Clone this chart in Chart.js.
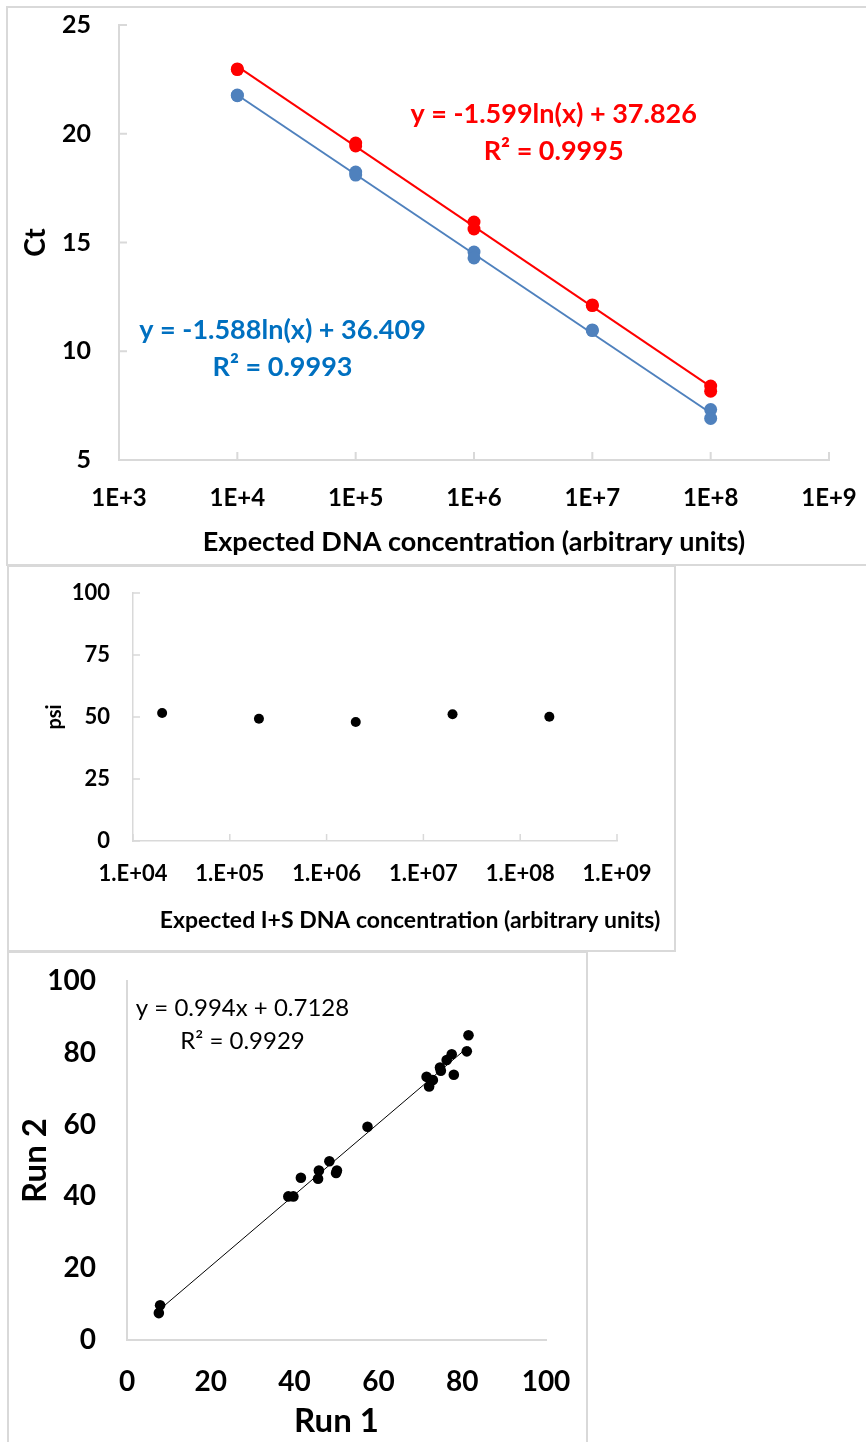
<!DOCTYPE html>
<html>
<head>
<meta charset="utf-8">
<script src="https://cdn.jsdelivr.net/npm/chart.js@4.4.1/dist/chart.umd.min.js"></script>
<style>
  body { margin: 0; background: #fff; }
  #page { position: relative; width: 866px; height: 1442px; overflow: hidden; }
  .frame { position: absolute; box-sizing: border-box; border: 2px solid #d9d9d9; }
  canvas { position: absolute; left: 0; }
</style>
</head>
<body>
<div id="page">
  <div class="frame" style="left:6px;top:6px;width:900px;height:560px"></div>
  <div class="frame" style="left:7px;top:565px;width:669px;height:387px"></div>
  <div class="frame" style="left:7px;top:951px;width:581px;height:520px"></div>
  <canvas id="ctChart" width="866" height="566" style="top:0"></canvas>
  <canvas id="psiChart" width="676" height="386" style="top:566px"></canvas>
  <canvas id="runChart" width="588" height="490" style="top:952px"></canvas>
</div>
<script>
// ---- standard curve (Ct vs expected concentration) ----
const ctConc = [1e4, 1e4, 1e5, 1e5, 1e6, 1e6, 1e7, 1e7, 1e8, 1e8];
const ctRed = [22.98, 22.95, 19.57, 19.44, 15.94, 15.62, 12.13, 12.10, 8.40, 8.16];
const ctBlue = [21.78, 21.75, 18.24, 18.10, 14.56, 14.29, 10.98, 10.95, 7.32, 6.91];
const fitConc = [1e4, 1e8];
const redFit = [23.10, 8.37];
const blueFit = [21.78, 7.16];
const ctXTicks = [1e3, 1e4, 1e5, 1e6, 1e7, 1e8, 1e9];
const ctXLabels = ['1E+3', '1E+4', '1E+5', '1E+6', '1E+7', '1E+8', '1E+9'];
const redEq = ['y = -1.599ln(x) + 37.826', 'R² = 0.9995'];
const blueEq = ['y = -1.588ln(x) + 36.409', 'R² = 0.9993'];

// ---- psi vs expected I+S concentration ----
const psiConc = [2e4, 2e5, 2e6, 2e7, 2e8];
const psiVals = [51.6, 49.3, 48.0, 51.1, 50.1];
const psiXTicks = [1e4, 1e5, 1e6, 1e7, 1e8, 1e9];
const psiXLabels = ['1.E+04', '1.E+05', '1.E+06', '1.E+07', '1.E+08', '1.E+09'];

// ---- run 1 vs run 2 ----
const run1 = [81.5, 81.1, 77.5, 76.3, 74.7, 74.9, 78.0, 71.5, 73.0, 72.1, 57.4,
              48.3, 45.8, 49.9, 50.1, 41.5, 45.6, 38.5, 39.7, 7.9, 7.6];
const run2 = [84.9, 80.4, 79.6, 78.0, 75.9, 75.0, 73.9, 73.3, 72.4, 70.6, 59.4,
              49.8, 47.2, 46.5, 47.2, 45.2, 44.9, 40.0, 40.0, 9.7, 7.5];
const runFitX = [7.6, 81.5];
const runFitY = [8.27, 81.7];
const runEq = ['y = 0.994x + 0.7128', 'R² = 0.9929'];

Chart.defaults.font.family = 'Lato, "Open Sans", sans-serif';
Chart.defaults.color = '#000';

const pts = (xs, ys) => xs.map((x, i) => ({ x: x, y: ys[i] }));

// pin an axis box to a fixed size and drop the label overflow padding,
// so the plot area lands where the original one is
const fixAxis = size => s => {
    if (s.isHorizontal()) s.height = size; else s.width = size;
    s.paddingTop = s.paddingBottom = s.paddingLeft = s.paddingRight = 0;
};

// short tick marks pointing into the plot area
const insideTicks = {
    id: 'insideTicks',
    beforeDatasetsDraw(chart, args, opts) {
        if (!opts.len) return;
        const { ctx, chartArea: a, scales: { x, y } } = chart;
        ctx.save();
        ctx.strokeStyle = opts.color;
        ctx.lineWidth = opts.width;
        ctx.beginPath();
        x.ticks.forEach(t => {
            const px = x.getPixelForValue(t.value);
            ctx.moveTo(px, a.bottom);
            ctx.lineTo(px, a.bottom - opts.len);
        });
        y.ticks.forEach(t => {
            const py = y.getPixelForValue(t.value);
            ctx.moveTo(a.left, py);
            ctx.lineTo(a.left + opts.len, py);
        });
        ctx.stroke();
        ctx.restore();
    }
};

// trendline equation labels, anchored in data space
const eqText = {
    id: 'eqText',
    afterDatasetsDraw(chart, args, opts) {
        const { ctx, scales: { x, y } } = chart;
        (opts.items || []).forEach(it => {
            const cx = x.getPixelForValue(it.x);
            const cy = y.getPixelForValue(it.y);
            ctx.save();
            ctx.font = it.font;
            ctx.fillStyle = it.color;
            ctx.textAlign = 'center';
            ctx.textBaseline = 'middle';
            it.lines.forEach((s, i) => ctx.fillText(s, cx, cy + i * it.gap));
            ctx.restore();
        });
    }
};

// x axis title that sits off-centre under the plot (middle panel)
const shiftedTitle = {
    id: 'shiftedTitle',
    afterDraw(chart, args, opts) {
        if (!opts.text) return;
        const { ctx, chartArea: a } = chart;
        ctx.save();
        ctx.font = opts.font;
        ctx.fillStyle = '#000';
        ctx.textAlign = 'center';
        ctx.textBaseline = 'middle';
        ctx.fillText(opts.text, (a.left + a.right) / 2 + opts.dx, a.bottom + opts.dy);
        ctx.restore();
    }
};

const noGrid = { display: false, drawTicks: false };
const axisBorder = { color: '#d9d9d9', width: 2 };

// top panel
new Chart(document.getElementById('ctChart'), {
    type: 'scatter',
    data: {
        datasets: [
            { data: pts(ctConc, ctRed), backgroundColor: '#ff0000', pointRadius: 6.5, pointBorderWidth: 0 },
            { data: pts(ctConc, ctBlue), backgroundColor: '#4f81bd', pointRadius: 6.5, pointBorderWidth: 0 },
            { data: pts(fitConc, redFit), showLine: true, borderColor: '#ff0000', borderWidth: 2, pointRadius: 0 },
            { data: pts(fitConc, blueFit), showLine: true, borderColor: '#4f81bd', borderWidth: 2, pointRadius: 0 }
        ]
    },
    options: {
        responsive: false,
        animation: false,
        layout: { autoPadding: false, padding: { top: 25, right: 37, bottom: 0, left: 0 } },
        plugins: {
            legend: { display: false },
            tooltip: { enabled: false },
            insideTicks: { len: 8, color: '#d9d9d9', width: 2 },
            eqText: {
                items: [
                    { x: 4.71e6, y: 20.89, lines: redEq, gap: 37, color: '#ff0000', font: 'bold 27px Lato' },
                    { x: 2.41e4, y: 10.98, lines: blueEq, gap: 37, color: '#0070c0', font: 'bold 27px Lato' }
                ]
            }
        },
        scales: {
            x: {
                type: 'logarithmic', min: 1e3, max: 1e9,
                afterBuildTicks: s => { s.ticks = ctXTicks.map(v => ({ value: v })); },
                afterFit: fixAxis(106),
                grid: noGrid,
                border: axisBorder,
                ticks: {
                    autoSkip: false, maxRotation: 0, padding: 24,
                    font: { size: 24, weight: 'bold' },
                    callback: (v, i) => ctXLabels[i]
                },
                title: {
                    display: true, text: 'Expected DNA concentration (arbitrary units)',
                    font: { size: 27, weight: 'bold' }, padding: { top: 0, bottom: 8 }
                }
            },
            y: {
                min: 5, max: 25,
                afterFit: fixAxis(119),
                grid: noGrid,
                border: axisBorder,
                ticks: { stepSize: 5, padding: 28, font: { size: 25, weight: 'bold' } },
                title: { display: true, text: 'Ct', font: { size: 28, weight: 'bold' }, padding: { top: 19, bottom: 0 } }
            }
        }
    },
    plugins: [insideTicks, eqText]
});

// middle panel
new Chart(document.getElementById('psiChart'), {
    type: 'scatter',
    data: {
        datasets: [
            { data: pts(psiConc, psiVals), backgroundColor: '#000', pointRadius: 5, pointBorderWidth: 0 }
        ]
    },
    options: {
        responsive: false,
        animation: false,
        layout: { autoPadding: false, padding: { top: 27, right: 59, bottom: 0, left: 0 } },
        plugins: {
            legend: { display: false },
            tooltip: { enabled: false },
            insideTicks: { len: 7, color: '#d9d9d9', width: 1.5 },
            shiftedTitle: {
                text: 'Expected I+S DNA concentration (arbitrary units)',
                font: 'bold 23px Lato', dx: 35, dy: 80
            }
        },
        scales: {
            x: {
                type: 'logarithmic', min: 1e4, max: 1e9,
                afterBuildTicks: s => { s.ticks = psiXTicks.map(v => ({ value: v })); },
                afterFit: fixAxis(111),
                grid: noGrid,
                border: { color: '#d9d9d9', width: 1.5 },
                ticks: {
                    autoSkip: false, maxRotation: 0, padding: 20,
                    font: { size: 22, weight: 'bold' },
                    callback: (v, i) => psiXLabels[i]
                }
            },
            y: {
                min: 0, max: 100,
                afterFit: fixAxis(133),
                grid: noGrid,
                border: { color: '#d9d9d9', width: 1.5 },
                ticks: { stepSize: 25, padding: 23, font: { size: 22, weight: 'bold' } },
                title: { display: true, text: 'psi', font: { size: 20, weight: 'bold' }, padding: { top: 43, bottom: 0 } }
            }
        }
    },
    plugins: [insideTicks, shiftedTitle]
});

// bottom panel
new Chart(document.getElementById('runChart'), {
    type: 'scatter',
    data: {
        datasets: [
            { data: pts(run1, run2), backgroundColor: '#000', pointRadius: 5.3, pointBorderWidth: 0 },
            { data: pts(runFitX, runFitY), showLine: true, borderColor: '#000', borderWidth: 1, pointRadius: 0 }
        ]
    },
    options: {
        responsive: false,
        animation: false,
        layout: { autoPadding: false, padding: { top: 29, right: 42, bottom: 0, left: 0 } },
        plugins: {
            legend: { display: false },
            tooltip: { enabled: false },
            eqText: {
                items: [
                    { x: 27.57, y: 92.5, lines: runEq, gap: 33, color: '#000', font: '24px Lato' }
                ]
            }
        },
        scales: {
            x: {
                min: 0, max: 100,
                afterFit: fixAxis(102),
                grid: noGrid,
                border: axisBorder,
                ticks: { stepSize: 20, autoSkip: false, maxRotation: 0, padding: 25, font: { size: 28, weight: 'bold' } },
                title: { display: true, text: 'Run 1', font: { size: 33, weight: 'bold' }, padding: { top: 0, bottom: 1 } }
            },
            y: {
                min: 0, max: 100,
                afterFit: fixAxis(127),
                grid: noGrid,
                border: axisBorder,
                ticks: { stepSize: 20, padding: 31, font: { size: 28, weight: 'bold' } },
                title: { display: true, text: 'Run 2', font: { size: 33, weight: 'bold' }, padding: { top: 16, bottom: 0 } }
            }
        }
    },
    plugins: [eqText]
});
</script>
</body>
</html>
